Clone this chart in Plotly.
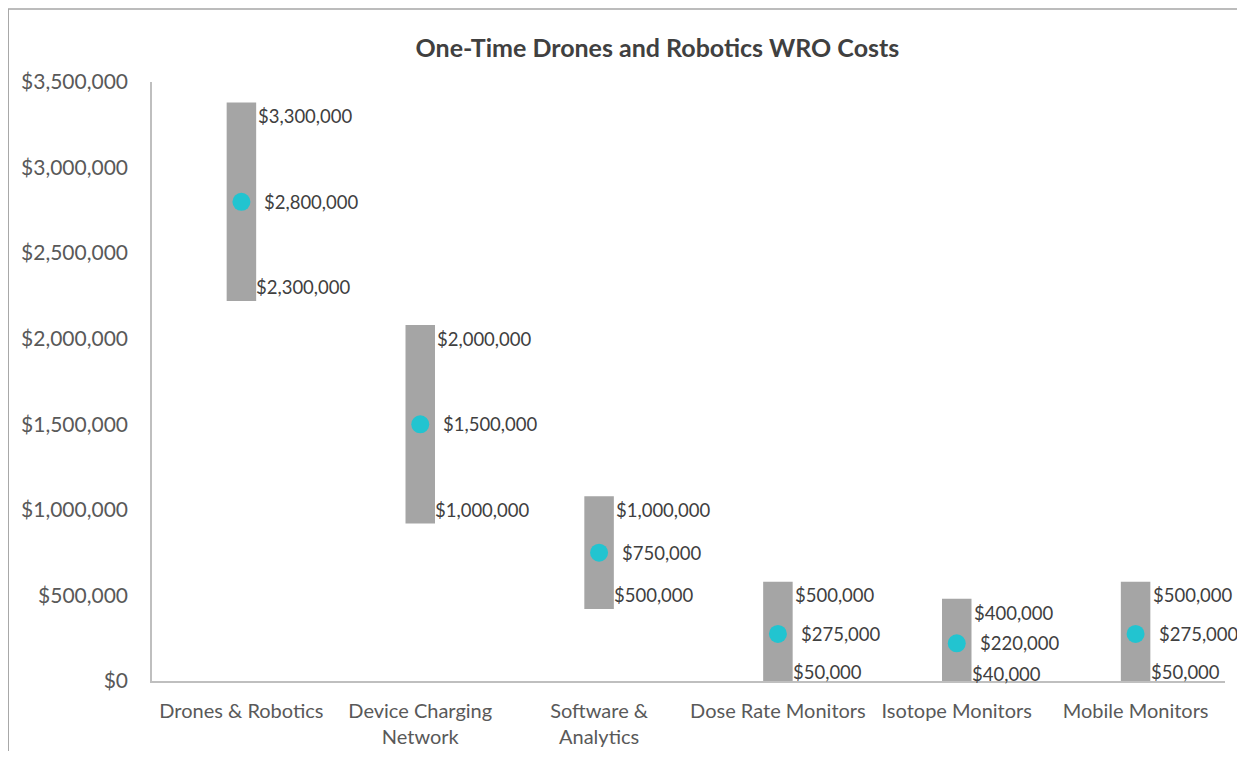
import plotly.graph_objects as go

categories = ["Drones & Robotics", "Device Charging<br>Network", "Software &<br>Analytics",
              "Dose Rate Monitors", "Isotope Monitors", "Mobile Monitors"]
low_cost = [2300000, 1000000, 500000, 50000, 40000, 50000]
mid_cost = [2800000, 1500000, 750000, 275000, 220000, 275000]
high_cost = [3300000, 2000000, 1000000, 500000, 400000, 500000]

y_ticks = [0, 500000, 1000000, 1500000, 2000000, 2500000, 3000000, 3500000]

FONT = "Lato"
BAR_GRAY = "#a5a5a5"
CYAN = "#22c4d0"
CAP = 80000  # square line-cap overhang of the high-low bar

fig = go.Figure()
fig.add_trace(go.Bar(
    x=categories,
    y=[h - l + 2 * CAP for h, l in zip(high_cost, low_cost)],
    base=[l - CAP for l in low_cost],
    width=0.165,
    marker=dict(color=BAR_GRAY, line=dict(width=0)),
    hoverinfo="skip",
))
fig.add_trace(go.Scatter(
    x=categories, y=mid_cost, mode="markers",
    marker=dict(color=CYAN, size=18),
    hoverinfo="skip",
))

labels = []
for cat, lo, mid, hi in zip(categories, low_cost, mid_cost, high_cost):
    for val, shift in ((hi, 15), (mid, 21), (lo, 13)):
        labels.append(dict(
            x=cat, y=val, text=f"${val:,.0f}", showarrow=False,
            xanchor="left", yanchor="middle", xshift=shift,
            font=dict(family=FONT, size=18.5, color="#404040"),
        ))

fig.update_layout(
    width=1237, height=743,
    margin=dict(l=144, r=20, t=74, b=70),
    paper_bgcolor="white", plot_bgcolor="white",
    showlegend=False,
    title=dict(text="<b>One-Time Drones and Robotics WRO Costs</b>",
               x=0.525, xanchor="center", y=0.9465, yanchor="middle",
               font=dict(family=FONT, size=25, color="#404040")),
    annotations=labels,
    xaxis=dict(
        range=[-0.5, 5.5], automargin=False,
        showline=True, linecolor="#bfbfbf", linewidth=1.5,
        ticks="", showgrid=False, ticklabelstandoff=11,
        tickfont=dict(family=FONT, size=20, color="#595959"),
    ),
    yaxis=dict(
        range=[0, 3500000], tickvals=y_ticks, automargin=False,
        ticktext=[f"${v:,.0f}" for v in y_ticks],
        showline=True, linecolor="#bfbfbf", linewidth=1.5,
        showgrid=False, zeroline=False, ticks="", ticklabelstandoff=18,
        tickfont=dict(family=FONT, size=21, color="#595959"),
    ),
    shapes=[dict(type="rect", xref="paper", yref="paper",
                 x0=-0.134, x1=1.3, y0=-0.3, y1=1.122,
                 line=dict(color="#a6a6a6", width=1.5), layer="below")],
)

fig.write_html("out.html")
